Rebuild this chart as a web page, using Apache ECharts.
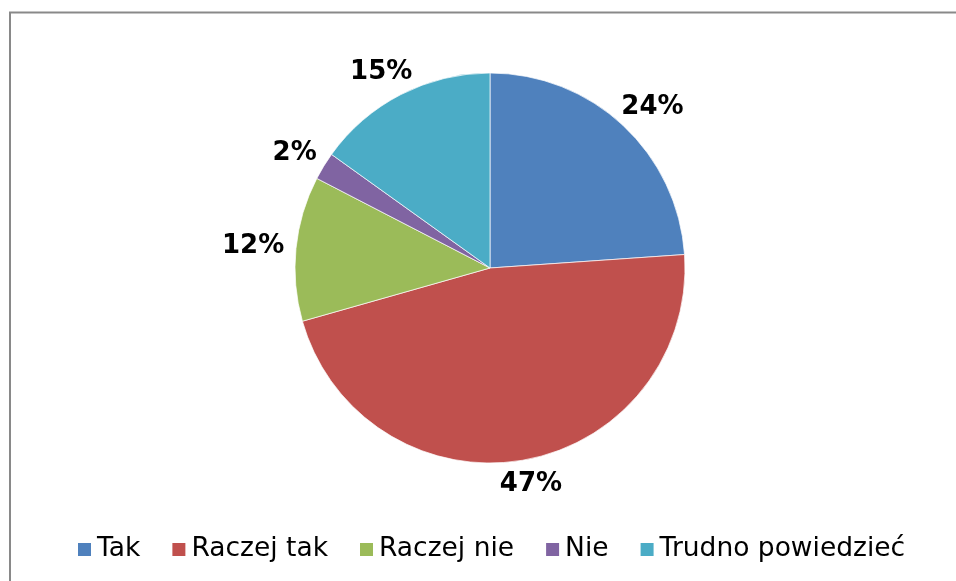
<!DOCTYPE html>
<html>
<head>
<meta charset="utf-8">
<script src="https://cdn.jsdelivr.net/npm/echarts@6/dist/echarts.min.js"></script>
<style>
    html, body { margin: 0; padding: 0; background: #fff; }
    #chart { width: 956px; height: 581px; }
</style>
</head>
<body>
<div id="chart"></div>
<script>
'use strict';
var categories = ['Tak', 'Raczej tak', 'Raczej nie', 'Nie', 'Trudno powiedzieć'];
var shares = [23.9, 46.7, 12.0, 2.3, 15.1];
var colors = ['#4F81BD', '#C0504D', '#9BBB59', '#8064A2', '#4BACC6'];

var pieCenter = [490, 268];
var pieRadius = 195;
var labelGap = 12;

var total = 0;
for (var k = 0; k < shares.length; k++) {
    total += shares[k];
}

var pieData = [];
for (var i = 0; i < categories.length; i++) {
    pieData.push({
        name: categories[i],
        value: shares[i],
        itemStyle: { color: colors[i] }
    });
}

// put each label just outside the slice, along its middle angle
function placeLabel(params) {
    var idx = params.dataIndex;
    var before = 0;
    for (var j = 0; j < idx; j++) {
        before += shares[j];
    }
    var ang = (before + shares[idx] / 2) / total * Math.PI * 2;
    var sx = Math.sin(ang);
    var sy = -Math.cos(ang);
    var w = params.labelRect.width;
    var h = params.labelRect.height;
    var rr = pieRadius + labelGap;
    return {
        x: pieCenter[0] + rr * sx + w / 2 * sx,
        y: pieCenter[1] + rr * sy + h / 2 * sy,
        align: 'center',
        verticalAlign: 'middle'
    };
}

var chart = echarts.init(document.getElementById('chart'));
var option = {
    animation: false,
    backgroundColor: '#fff',
    graphic: [
        {
            type: 'rect',
            shape: { x: 10, y: 12.5, width: 2000, height: 2000 },
            style: { fill: 'none', stroke: '#898989', lineWidth: 2 },
            silent: true
        }
    ],
    legend: {
        data: categories,
        left: 76,
        top: 536,
        padding: 0,
        itemWidth: 15,
        itemHeight: 15,
        itemGap: 30,
        icon: 'rect',
        textStyle: {
            fontFamily: 'DejaVu Sans',
            fontSize: 26.5,
            color: '#000'
        }
    },
    series: [
        {
            type: 'pie',
            center: pieCenter,
            radius: pieRadius,
            startAngle: 90,
            clockwise: true,
            avoidLabelOverlap: false,
            percentPrecision: 0,
            itemStyle: {
                borderColor: '#fff',
                borderWidth: 0.7
            },
            label: {
                show: true,
                position: 'outside',
                formatter: '{d}%',
                fontFamily: 'DejaVu Sans',
                fontWeight: 'bold',
                fontSize: 26,
                color: '#000'
            },
            labelLine: { show: false },
            labelLayout: placeLabel,
            data: pieData
        }
    ]
};
chart.setOption(option);
</script>
</body>
</html>
